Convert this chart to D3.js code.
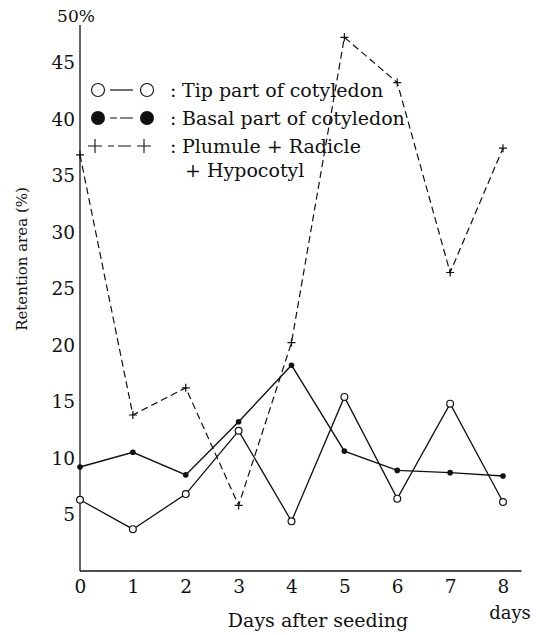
<!DOCTYPE html>
<html>
<head>
<meta charset="utf-8">
<script src="https://cdn.jsdelivr.net/npm/d3@7"></script>
<style>
  html, body { margin: 0; padding: 0; background: #fff; }
  svg text { font-family: "DejaVu Serif", "Liberation Serif", serif; fill: #111; }
</style>
</head>
<body>
<div id="chart"></div>
<script>
// data
const days = [0, 1, 2, 3, 4, 5, 6, 7, 8];
const tipPart = [6.3, 3.7, 6.8, 12.4, 4.4, 15.4, 6.4, 14.8, 6.1];
const basalPart = [9.2, 10.5, 8.5, 13.2, 18.2, 10.6, 8.9, 8.7, 8.4];
const plumuleRadicle = [36.8, 13.8, 16.2, 5.8, 20.2, 47.2, 43.2, 26.4, 37.4];
const yTicks = [5, 10, 15, 20, 25, 30, 35, 40, 45];
const legendLabels = ['Tip part of cotyledon', 'Basal part of cotyledon', 'Plumule + Radicle'];

const width = 543;
const height = 635;

const x = d3.scaleLinear().domain([0, 8]).range([80, 503]);
const y = d3.scaleLinear().domain([0, 50]).range([571, 5.7]);

const svg = d3.select('#chart')
  .append('svg')
  .attr('width', width)
  .attr('height', height);

// axes
svg.append('line')
  .attr('x1', x(0)).attr('x2', x(0))
  .attr('y1', y(48.3)).attr('y2', y(0))
  .style('stroke', '#111').style('stroke-width', 1.3);

svg.append('line')
  .attr('x1', x(0)).attr('x2', x(8.35))
  .attr('y1', y(0)).attr('y2', y(0))
  .style('stroke', '#111').style('stroke-width', 1.3);

const yAxis = svg.append('g')
  .attr('transform', 'translate(' + [x(0) - 3, 0] + ')')
  .call(d3.axisLeft(y).tickValues(yTicks).tickSize(0).tickPadding(2));
yAxis.select('.domain').remove();
yAxis.selectAll('text')
  .style('font-family', '"DejaVu Serif", serif')
  .style('font-size', '18.5px')
  .attr('dy', '0.35em')
  .attr('fill', '#111');

svg.append('text')
  .attr('x', x(0) - 4)
  .attr('y', y(50) + 10)
  .attr('dy', '0.35em')
  .attr('text-anchor', 'middle')
  .style('font-size', '17px')
  .text('50%');

const xAxis = svg.append('g')
  .attr('transform', 'translate(' + [0, y(0)] + ')')
  .call(d3.axisBottom(x).tickValues(days).tickSize(0).tickPadding(9));
xAxis.select('.domain').remove();
xAxis.selectAll('text')
  .style('font-family', '"DejaVu Serif", serif')
  .style('font-size', '18.5px')
  .attr('dy', '0.71em')
  .attr('fill', '#111');

svg.append('text')
  .attr('x', 510)
  .attr('y', 619)
  .attr('text-anchor', 'middle')
  .style('font-size', '18px')
  .text('days');

svg.append('text')
  .attr('x', 318)
  .attr('y', 627)
  .attr('text-anchor', 'middle')
  .style('font-size', '19px')
  .text('Days after seeding');

svg.append('text')
  .attr('transform', 'translate(' + [27, 259] + ') rotate(-90)')
  .attr('text-anchor', 'middle')
  .style('font-size', '15px')
  .text('Retention area (%)');

// series
const line = d3.line()
  .x((d, i) => x(days[i]))
  .y(d => y(d));

function plusPath(s) {
  return 'M' + (-s) + ',0H' + s + 'M0,' + (-s) + 'V' + s;
}

svg.append('path')
  .datum(plumuleRadicle)
  .attr('d', line)
  .style('fill', 'none')
  .style('stroke', '#111')
  .style('stroke-width', 1.2)
  .style('stroke-dasharray', '7,4');

svg.append('path')
  .datum(basalPart)
  .attr('d', line)
  .style('fill', 'none')
  .style('stroke', '#111')
  .style('stroke-width', 1.4);

svg.append('path')
  .datum(tipPart)
  .attr('d', line)
  .style('fill', 'none')
  .style('stroke', '#111')
  .style('stroke-width', 1.3);

svg.selectAll('path.plus')
  .data(plumuleRadicle)
  .enter()
  .append('path')
  .attr('class', 'plus')
  .attr('transform', (d, i) => 'translate(' + [x(days[i]), y(d)] + ')')
  .attr('d', plusPath(4))
  .style('stroke', '#111')
  .style('stroke-width', 1.2);

svg.selectAll('circle.basal')
  .data(basalPart)
  .enter()
  .append('circle')
  .attr('class', 'basal')
  .attr('cx', (d, i) => x(days[i]))
  .attr('cy', d => y(d))
  .attr('r', 2.8)
  .style('fill', '#111');

svg.selectAll('circle.tip')
  .data(tipPart)
  .enter()
  .append('circle')
  .attr('class', 'tip')
  .attr('cx', (d, i) => x(days[i]))
  .attr('cy', d => y(d))
  .attr('r', 3.4)
  .style('fill', '#fff')
  .style('stroke', '#111')
  .style('stroke-width', 1.2);

// legend
const legend = svg.append('g')
  .attr('transform', 'translate(' + [98, 90] + ')');

const rows = legend.selectAll('g.row')
  .data(legendLabels)
  .enter()
  .append('g')
  .attr('class', 'row')
  .attr('transform', (d, i) => 'translate(0,' + i * 28 + ')');

rows.append('line')
  .attr('x1', (d, i) => i === 2 ? 10 : 12)
  .attr('x2', (d, i) => i === 2 ? 33 : 35)
  .attr('y1', 0).attr('y2', 0)
  .style('stroke', '#111')
  .style('stroke-width', 1.2)
  .style('stroke-dasharray', (d, i) => i === 0 ? null : (i === 1 ? '7,3,13' : '6,4,13'));

rows.each(function(d, i) {
  const row = d3.select(this);
  [0, 49].forEach(function(cx) {
    if (i === 0) {
      row.append('circle')
        .attr('cx', cx).attr('r', 6.5)
        .style('fill', '#fff').style('stroke', '#111').style('stroke-width', 1.1);
    } else if (i === 1) {
      row.append('circle')
        .attr('cx', cx).attr('r', 7)
        .style('fill', '#111');
    } else {
      row.append('path')
        .attr('transform', 'translate(' + [cx - 3, 0] + ')')
        .attr('d', plusPath(7))
        .style('stroke', '#111').style('stroke-width', 1.1);
    }
  });
});

rows.append('text')
  .attr('x', 72)
  .attr('dy', '0.35em')
  .style('font-size', '19px')
  .text(':');

rows.append('text')
  .attr('x', 84)
  .attr('dy', '0.35em')
  .style('font-size', '19px')
  .text(d => d);

legend.append('text')
  .attr('x', 87)
  .attr('y', 80)
  .attr('dy', '0.35em')
  .style('font-size', '19px')
  .text('+ Hypocotyl');
</script>
</body>
</html>
